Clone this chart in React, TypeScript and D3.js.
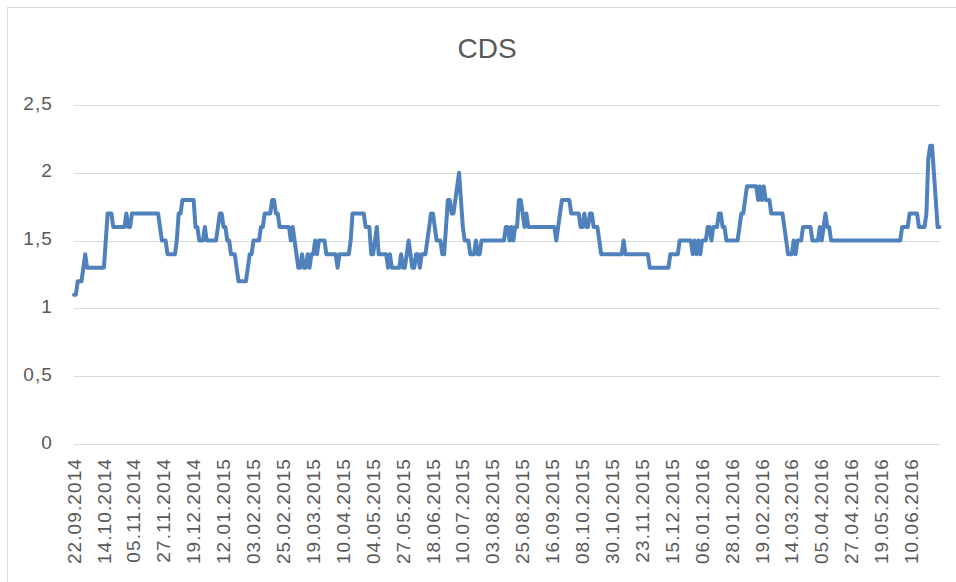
import React, { useEffect, useRef } from "react";
import * as d3 from "d3";

// CDS quotes, one value per business day starting 22.09.2014 (16 values per label step)
const cdsValues = [
  1.1, 1.1, 1.2, 1.2, 1.2, 1.3, 1.4, 1.3, 1.3, 1.3, 1.3, 1.3, 1.3, 1.3, 1.3, 1.3,
  1.3, 1.5, 1.7, 1.7, 1.7, 1.6, 1.6, 1.6, 1.6, 1.6, 1.6, 1.6, 1.7, 1.6, 1.6, 1.7,
  1.7, 1.7, 1.7, 1.7, 1.7, 1.7, 1.7, 1.7, 1.7, 1.7, 1.7, 1.7, 1.7, 1.7, 1.6, 1.5,
  1.5, 1.5, 1.4, 1.4, 1.4, 1.4, 1.4, 1.5, 1.7, 1.7, 1.8, 1.8, 1.8, 1.8, 1.8, 1.8,
  1.8, 1.6, 1.6, 1.5, 1.5, 1.5, 1.6, 1.5, 1.5, 1.5, 1.5, 1.5, 1.5, 1.6, 1.7, 1.7,
  1.6, 1.6, 1.5, 1.5, 1.4, 1.4, 1.4, 1.3, 1.2, 1.2, 1.2, 1.2, 1.2, 1.3, 1.4, 1.4,
  1.5, 1.5, 1.5, 1.5, 1.6, 1.6, 1.7, 1.7, 1.7, 1.7, 1.8, 1.8, 1.7, 1.7, 1.6, 1.6,
  1.6, 1.6, 1.6, 1.6, 1.5, 1.6, 1.5, 1.4, 1.3, 1.3, 1.4, 1.3, 1.3, 1.4, 1.3, 1.4,
  1.4, 1.5, 1.4, 1.5, 1.5, 1.5, 1.5, 1.4, 1.4, 1.4, 1.4, 1.4, 1.4, 1.3, 1.4, 1.4,
  1.4, 1.4, 1.4, 1.4, 1.5, 1.7, 1.7, 1.7, 1.7, 1.7, 1.7, 1.7, 1.6, 1.6, 1.6, 1.4,
  1.4, 1.5, 1.6, 1.4, 1.4, 1.4, 1.4, 1.4, 1.3, 1.4, 1.3, 1.3, 1.3, 1.3, 1.3, 1.4,
  1.3, 1.3, 1.4, 1.5, 1.4, 1.3, 1.3, 1.4, 1.4, 1.3, 1.4, 1.4, 1.4, 1.5, 1.6, 1.7,
  1.7, 1.6, 1.5, 1.5, 1.5, 1.4, 1.4, 1.6, 1.8, 1.8, 1.7, 1.7, 1.8, 1.9, 2.0, 1.8,
  1.6, 1.5, 1.5, 1.5, 1.4, 1.4, 1.4, 1.5, 1.4, 1.4, 1.5, 1.5, 1.5, 1.5, 1.5, 1.5,
  1.5, 1.5, 1.5, 1.5, 1.5, 1.5, 1.5, 1.6, 1.6, 1.5, 1.6, 1.5, 1.6, 1.6, 1.8, 1.8,
  1.7, 1.6, 1.7, 1.6, 1.6, 1.6, 1.6, 1.6, 1.6, 1.6, 1.6, 1.6, 1.6, 1.6, 1.6, 1.6,
  1.6, 1.6, 1.5, 1.6, 1.7, 1.8, 1.8, 1.8, 1.8, 1.8, 1.7, 1.7, 1.7, 1.7, 1.7, 1.6,
  1.6, 1.7, 1.6, 1.6, 1.7, 1.7, 1.6, 1.6, 1.6, 1.5, 1.4, 1.4, 1.4, 1.4, 1.4, 1.4,
  1.4, 1.4, 1.4, 1.4, 1.4, 1.4, 1.5, 1.4, 1.4, 1.4, 1.4, 1.4, 1.4, 1.4, 1.4, 1.4,
  1.4, 1.4, 1.4, 1.4, 1.3, 1.3, 1.3, 1.3, 1.3, 1.3, 1.3, 1.3, 1.3, 1.3, 1.3, 1.4,
  1.4, 1.4, 1.4, 1.4, 1.5, 1.5, 1.5, 1.5, 1.5, 1.5, 1.5, 1.4, 1.5, 1.4, 1.5, 1.4,
  1.5, 1.5, 1.5, 1.6, 1.6, 1.5, 1.6, 1.6, 1.6, 1.7, 1.7, 1.6, 1.6, 1.5, 1.5, 1.5,
  1.5, 1.5, 1.5, 1.5, 1.6, 1.7, 1.7, 1.8, 1.9, 1.9, 1.9, 1.9, 1.9, 1.9, 1.8, 1.9,
  1.8, 1.9, 1.8, 1.8, 1.8, 1.7, 1.7, 1.7, 1.7, 1.7, 1.7, 1.7, 1.6, 1.5, 1.4, 1.4,
  1.4, 1.5, 1.4, 1.5, 1.5, 1.5, 1.6, 1.6, 1.6, 1.6, 1.6, 1.5, 1.5, 1.5, 1.5, 1.6,
  1.5, 1.6, 1.7, 1.6, 1.6, 1.5, 1.5, 1.5, 1.5, 1.5, 1.5, 1.5, 1.5, 1.5, 1.5, 1.5,
  1.5, 1.5, 1.5, 1.5, 1.5, 1.5, 1.5, 1.5, 1.5, 1.5, 1.5, 1.5, 1.5, 1.5, 1.5, 1.5,
  1.5, 1.5, 1.5, 1.5, 1.5, 1.5, 1.5, 1.5, 1.5, 1.5, 1.5, 1.6, 1.6, 1.6, 1.6, 1.7,
  1.7, 1.7, 1.7, 1.7, 1.6, 1.6, 1.6, 1.6, 1.7, 2.1, 2.2, 2.2, 2.0, 1.8, 1.6, 1.6,
];

const tickLabels = [
  "22.09.2014", "14.10.2014", "05.11.2014", "27.11.2014", "19.12.2014",
  "12.01.2015", "03.02.2015", "25.02.2015", "19.03.2015", "10.04.2015",
  "04.05.2015", "27.05.2015", "18.06.2015", "10.07.2015", "03.08.2015",
  "25.08.2015", "16.09.2015", "08.10.2015", "30.10.2015", "23.11.2015",
  "15.12.2015", "06.01.2016", "28.01.2016", "19.02.2016", "14.03.2016",
  "05.04.2016", "27.04.2016", "19.05.2016", "10.06.2016",
];
const tickStep = 16;

const yTicks = [0, 0.5, 1, 1.5, 2, 2.5];

const WIDTH = 956;
const HEIGHT = 582;
const FONT = "'Liberation Sans', Arial, sans-serif";

export default function App() {
  const ref = useRef<SVGSVGElement>(null);

  useEffect(() => {
    const svg = d3.select(ref.current);
    svg.selectAll("*").remove();

    const left = 74, right = 940, top = 105, bottom = 444;

    const x = d3.scaleLinear().domain([0, cdsValues.length - 1]).range([left, right - 0.5]);
    const y = d3.scaleLinear().domain([0, 2.5]).range([bottom, top]);

    // chart frame (only top/left edge visible in the picture)
    svg.append("rect")
      .attr("x", 7.5).attr("y", 7.5)
      .attr("width", WIDTH + 20).attr("height", HEIGHT + 20)
      .attr("fill", "#fff").attr("stroke", "#d9d9d9");

    svg.append("text")
      .attr("x", 487).attr("y", 58)
      .attr("text-anchor", "middle")
      .attr("font-family", FONT).attr("font-size", 28)
      .attr("fill", "#595959")
      .text("CDS");

    const grid = svg.append("g");
    grid.selectAll("line").data(yTicks).join("line")
      .attr("x1", left).attr("x2", right)
      .attr("y1", d => Math.round(y(d)) + 0.5)
      .attr("y2", d => Math.round(y(d)) + 0.5)
      .attr("stroke", "#d9d9d9").attr("stroke-width", 1);

    svg.append("g").selectAll("text").data(yTicks).join("text")
      .attr("x", 53)
      .attr("y", d => y(d) + 4.5)
      .attr("text-anchor", "end")
      .attr("font-family", FONT).attr("font-size", 19)
      .attr("letter-spacing", 1.1)
      .attr("fill", "#595959")
      .text(d => String(d).replace(".", ","));

    svg.append("g").selectAll("text").data(tickLabels).join("text")
      .attr("transform", (d, i) => `translate(${x(i * tickStep)},458) rotate(-90)`)
      .attr("dy", "0.35em")
      .attr("text-anchor", "end")
      .attr("font-family", FONT).attr("font-size", 19)
      .attr("letter-spacing", 1.1)
      .attr("fill", "#595959")
      .text(d => d);

    const line = d3.line<number>()
      .x((d, i) => x(i))
      .y(d => y(d));

    svg.append("path")
      .datum(cdsValues)
      .attr("d", line)
      .attr("fill", "none")
      .attr("stroke", "#4f81bd")
      .attr("stroke-width", 4)
      .attr("stroke-linejoin", "round")
      .attr("stroke-linecap", "round");
  }, []);

  return (
    <svg
      ref={ref}
      width={WIDTH}
      height={HEIGHT}
      style={{ position: "absolute", left: 0, top: 0, background: "#fff" }}
    />
  );
}
